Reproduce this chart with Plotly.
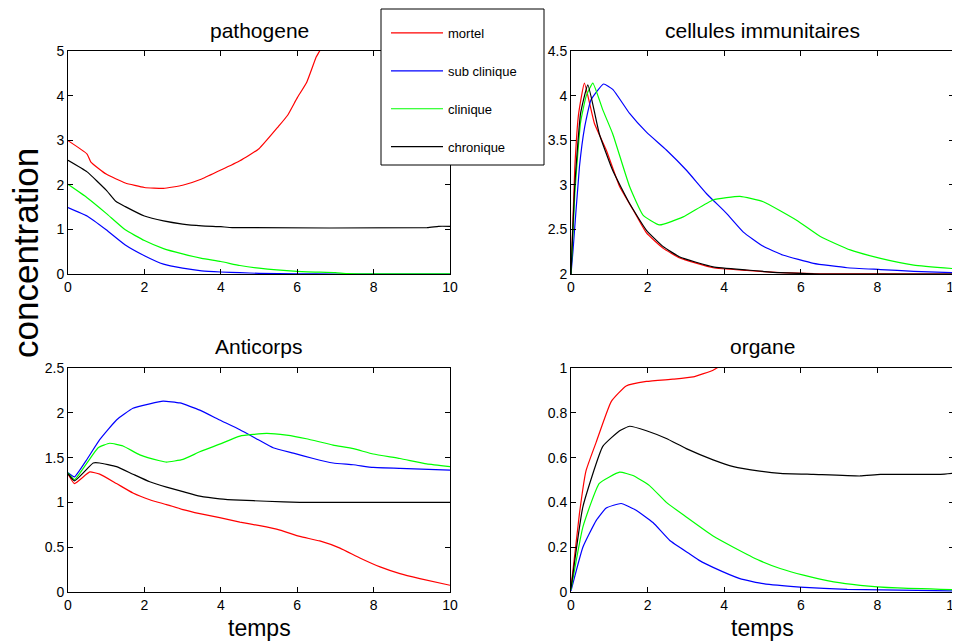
import plotly.graph_objects as go
from plotly.subplots import make_subplots

# séries (temps, valeur)
noms = ["mortel", "sub clinique", "clinique", "chronique"]
couleurs = ["#ff0000", "#0000ff", "#00ff00", "#000000"]

# pathogene
path_mortel_t = [0, 0.5, 0.6, 1, 1.5, 2, 2.5, 3, 3.5, 4, 4.5, 5, 5.5, 5.75, 6, 6.25, 6.5, 6.6, 7]
path_mortel_y = [2.99, 2.69, 2.51, 2.24, 2.04, 1.94, 1.92, 1.99, 2.13, 2.33, 2.54, 2.81, 3.30, 3.56, 3.95, 4.3, 4.87, 5.02, 6.1]
path_sub_t = [0, 0.5, 1, 1.5, 2, 2.5, 3, 3.5, 4, 4.5, 5, 6, 7, 10]
path_sub_y = [1.49, 1.30, 0.99, 0.65, 0.41, 0.22, 0.13, 0.07, 0.045, 0.03, 0.015, 0.005, 0.0, 0.0]
path_clin_t = [0, 0.5, 1, 1.5, 2, 2.5, 3, 3.5, 4, 4.5, 5, 6, 7, 7.3, 8, 10]
path_clin_y = [2.01, 1.71, 1.36, 0.99, 0.75, 0.57, 0.45, 0.35, 0.28, 0.19, 0.13, 0.06, 0.03, 0.01, 0.005, 0.005]
path_chron_t = [0, 0.5, 1, 1.25, 1.5, 2, 2.5, 3, 3.5, 4, 4.3, 9.4, 9.7, 10]
path_chron_y = [2.55, 2.29, 1.88, 1.63, 1.51, 1.30, 1.19, 1.12, 1.08, 1.06, 1.04, 1.04, 1.07, 1.07]

# cellules immunitaires
cell_mortel_t = [0, 0.1, 0.2, 0.35, 0.61, 0.92, 1.27, 1.62, 1.97, 2.4, 2.84, 3.71, 4.59, 5.46, 6.33, 10]
cell_mortel_y = [2.0, 3.2, 3.8, 4.14, 3.69, 3.39, 2.98, 2.72, 2.46, 2.29, 2.18, 2.07, 2.04, 2.015, 2.004, 2.0]
cell_sub_t = [0, 0.05, 0.22, 0.35, 0.52, 0.85, 1.09, 1.53, 1.97, 2.49, 3.02, 3.54, 4.06, 4.5, 5.02, 5.55, 6.33, 7.21, 8.08, 8.95, 10]
cell_sub_y = [2.0, 2.25, 3.2, 3.63, 3.95, 4.13, 4.07, 3.80, 3.59, 3.39, 3.16, 2.90, 2.68, 2.47, 2.31, 2.21, 2.12, 2.07, 2.05, 2.03, 2.015]
cell_clin_t = [0, 0.1, 0.25, 0.4, 0.57, 0.83, 1.09, 1.53, 1.88, 2.31, 2.93, 3.71, 4.41, 5.02, 5.9, 6.51, 7.29, 8.08, 8.95, 10]
cell_clin_y = [2.0, 2.9, 3.7, 4.0, 4.14, 3.84, 3.57, 2.98, 2.66, 2.55, 2.64, 2.83, 2.87, 2.81, 2.60, 2.42, 2.27, 2.175, 2.10, 2.06]
cell_chron_t = [0, 0.1, 0.25, 0.44, 0.74, 1.09, 1.53, 1.97, 2.4, 2.84, 3.71, 4.59, 5.46, 6.5, 10]
cell_chron_y = [2.0, 3.0, 3.8, 4.12, 3.57, 3.16, 2.79, 2.49, 2.31, 2.19, 2.08, 2.045, 2.015, 2.0, 2.0]

# Anticorps
anti_mortel_t = [0, 0.17, 0.57, 0.83, 1.27, 1.7, 2.14, 2.58, 3.01, 3.45, 3.97, 4.5, 5.02, 5.55, 6.07, 6.59, 7.12, 7.64, 8.17, 8.69, 9.21, 10]
anti_mortel_y = [1.315, 1.21, 1.34, 1.315, 1.21, 1.105, 1.03, 0.976, 0.92, 0.875, 0.83, 0.78, 0.74, 0.69, 0.62, 0.57, 0.49, 0.38, 0.28, 0.205, 0.15, 0.075]
anti_sub_t = [0, 0.17, 0.48, 0.83, 1.27, 1.7, 2.14, 2.49, 2.93, 3.45, 3.97, 4.5, 5.02, 5.37, 5.9, 6.42, 6.94, 7.47, 7.99, 8.69, 10]
anti_sub_y = [1.33, 1.285, 1.47, 1.70, 1.92, 2.05, 2.10, 2.13, 2.11, 2.03, 1.92, 1.81, 1.69, 1.61, 1.55, 1.49, 1.44, 1.42, 1.39, 1.38, 1.36]
anti_clin_t = [0, 0.17, 0.48, 0.79, 1.09, 1.44, 1.88, 2.4, 2.58, 3.01, 3.45, 3.97, 4.5, 5.2, 5.72, 6.24, 6.94, 7.47, 7.99, 8.69, 9.39, 10]
anti_clin_y = [1.33, 1.255, 1.43, 1.61, 1.66, 1.63, 1.53, 1.465, 1.45, 1.48, 1.565, 1.65, 1.74, 1.77, 1.75, 1.71, 1.64, 1.60, 1.54, 1.49, 1.43, 1.40]
anti_chron_t = [0, 0.17, 0.66, 0.83, 1.27, 1.7, 2.14, 2.58, 3.01, 3.45, 3.97, 4.5, 5.2, 6.07, 10]
anti_chron_y = [1.32, 1.24, 1.44, 1.44, 1.40, 1.315, 1.23, 1.17, 1.12, 1.07, 1.04, 1.025, 1.013, 1.0, 1.0]

# organe
org_mortel_t = [0, 0.22, 0.39, 0.66, 1.05, 1.44, 1.97, 2.66, 3.19, 3.71, 3.84, 5]
org_mortel_y = [0.02, 0.35, 0.54, 0.67, 0.85, 0.92, 0.94, 0.95, 0.96, 0.99, 1.003, 1.05]
org_sub_t = [0, 0.31, 0.66, 0.92, 1.31, 1.7, 2.14, 2.58, 3.1, 3.36, 3.71, 4.41, 5.02, 5.98, 7.21, 10]
org_sub_y = [0.005, 0.20, 0.32, 0.375, 0.395, 0.365, 0.31, 0.23, 0.17, 0.14, 0.11, 0.06, 0.037, 0.022, 0.012, 0.005]
org_clin_t = [0, 0.31, 0.74, 1.27, 1.62, 2.05, 2.49, 3.01, 3.71, 4.24, 4.93, 5.46, 6.07, 6.86, 7.55, 8.52, 10]
org_clin_y = [0.01, 0.29, 0.485, 0.535, 0.52, 0.475, 0.40, 0.335, 0.25, 0.20, 0.14, 0.105, 0.075, 0.045, 0.03, 0.018, 0.01]
org_chron_t = [0, 0.31, 0.83, 1.27, 1.53, 1.97, 2.49, 3.01, 3.71, 4.24, 4.93, 5.46, 6.33, 7.55, 8.08, 9.65, 10]
org_chron_y = [0.015, 0.38, 0.65, 0.72, 0.74, 0.72, 0.685, 0.64, 0.59, 0.56, 0.54, 0.53, 0.525, 0.518, 0.525, 0.525, 0.53]

panneaux = [
    ("pathogene", 1, 1, [0, 5], 1,
     [(path_mortel_t, path_mortel_y), (path_sub_t, path_sub_y), (path_clin_t, path_clin_y), (path_chron_t, path_chron_y)]),
    ("cellules immunitaires", 1, 2, [2, 4.5], 0.5,
     [(cell_mortel_t, cell_mortel_y), (cell_sub_t, cell_sub_y), (cell_clin_t, cell_clin_y), (cell_chron_t, cell_chron_y)]),
    ("Anticorps", 2, 1, [0, 2.5], 0.5,
     [(anti_mortel_t, anti_mortel_y), (anti_sub_t, anti_sub_y), (anti_clin_t, anti_clin_y), (anti_chron_t, anti_chron_y)]),
    ("organe", 2, 2, [0, 1], 0.2,
     [(org_mortel_t, org_mortel_y), (org_sub_t, org_sub_y), (org_clin_t, org_clin_y), (org_chron_t, org_chron_y)]),
]

# la page html garde une marge de 8 px autour de la figure
D = 8
W, H = 960 - D, 643 - D


def px(x):
    return (x - D) / W


def py(y):
    return 1 - (y - D) / H


x_dom = {1: [px(68), px(450)], 2: [px(571), px(954)]}
y_dom = {1: [py(274), py(51)], 2: [py(592), py(368)]}

fig = make_subplots(rows=2, cols=2)

police = "Liberation Sans, Arial, sans-serif"

for titre, r, c, yr, dt, series in panneaux:
    for i, (t, y) in enumerate(series):
        fig.add_trace(
            go.Scatter(
                x=t, y=y, mode="lines",
                line=dict(color=couleurs[i], width=1.2, shape="spline", smoothing=0.4),
                name=noms[i], legendgroup=noms[i],
                showlegend=(r == 1 and c == 1),
                hoverinfo="skip",
            ),
            row=r, col=c,
        )
    fig.update_xaxes(
        domain=x_dom[c], range=[0, 10], dtick=2, tick0=0, automargin=False,
        ticklabeloverflow="allow",
        showline=True, linecolor="black", linewidth=1, mirror="ticks",
        ticks="inside", ticklen=5, tickcolor="black",
        showgrid=False, zeroline=False,
        tickfont=dict(size=14, color="black"),
        row=r, col=c,
    )
    fig.update_yaxes(
        domain=y_dom[r], range=yr, dtick=dt, tick0=0, automargin=False,
        ticklabeloverflow="allow",
        showline=True, linecolor="black", linewidth=1, mirror="ticks",
        ticks="inside", ticklen=5, tickcolor="black",
        showgrid=False, zeroline=False,
        tickfont=dict(size=14, color="black"),
        row=r, col=c,
    )
    cx = sum(x_dom[c]) / 2
    fig.add_annotation(text=titre, x=cx, y=py(30 if r == 1 else 346), xref="paper", yref="paper",
                       showarrow=False, xanchor="center", yanchor="middle",
                       font=dict(size=21, color="black"))
    if r == 2:
        fig.add_annotation(text="temps", x=cx, y=py(628), xref="paper", yref="paper",
                           showarrow=False, xanchor="center", yanchor="middle",
                           font=dict(size=23, color="black"))

fig.add_annotation(text="concentration", x=px(25), y=py(253), xref="paper", yref="paper",
                   showarrow=False, textangle=-90, xanchor="center", yanchor="middle",
                   font=dict(size=35, color="black"))

# cadre de la légende, dessiné par-dessus les axes
fig.add_shape(type="rect", xref="paper", yref="paper",
              x0=px(381), x1=px(544), y0=py(165), y1=py(9),
              line=dict(color="black", width=1), fillcolor="white", layer="above")

fig.update_layout(
    width=W, height=H,
    margin=dict(l=0, r=0, t=0, b=0, autoexpand=False),
    paper_bgcolor="white", plot_bgcolor="white",
    font=dict(family=police, color="black"),
    showlegend=True,
    legend=dict(
        x=px(386), y=py(18), xanchor="left", yanchor="top",
        bgcolor="rgba(0,0,0,0)", borderwidth=0,
        font=dict(size=13), itemwidth=52,
        traceorder="grouped", tracegroupgap=18,
    ),
)

fig.write_html("out.html")
